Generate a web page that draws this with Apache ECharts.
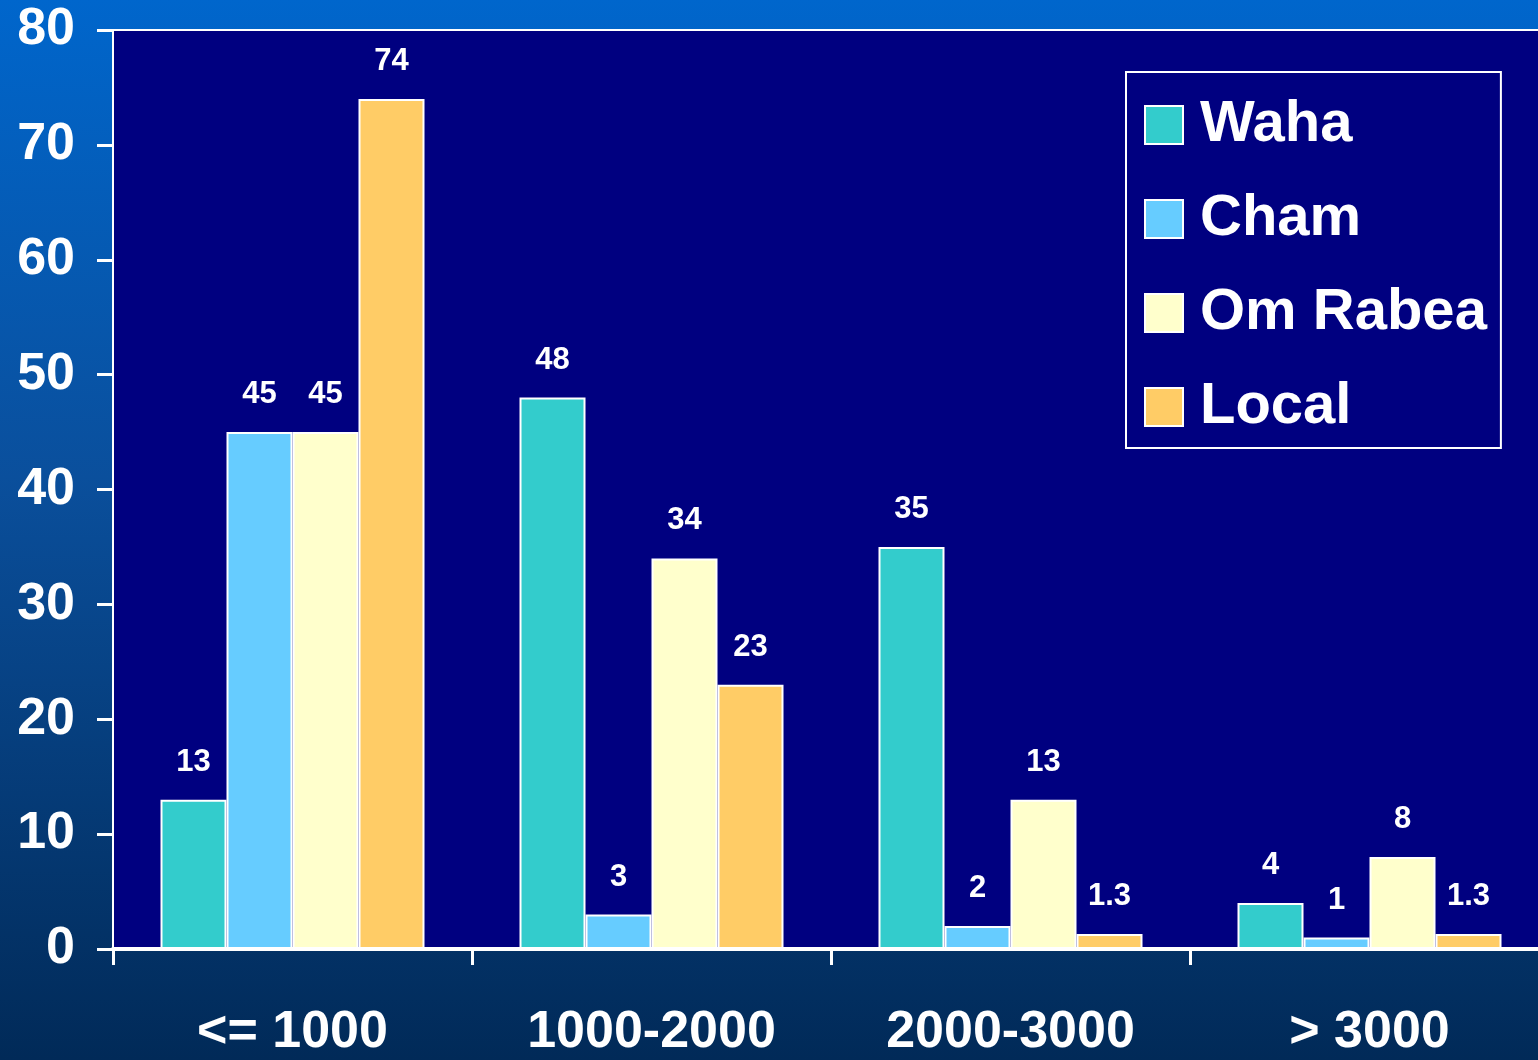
<!DOCTYPE html>
<html>
<head>
<meta charset="utf-8">
<script src="https://cdn.jsdelivr.net/npm/echarts@6/dist/echarts.min.js"></script>
<style>
  html, body { margin: 0; padding: 0; overflow: hidden; }
  #main { width: 1549px; height: 1060px; }
</style>
</head>
<body>
<div id="main"></div>
<script>
// data
let categories = ['<= 1000', '1000-2000', '2000-3000', '> 3000'];
let waha = [13, 48, 35, 4];
let cham = [45, 3, 2, 1];
let omRabea = [45, 34, 13, 8];
let local = [74, 23, 1.3, 1.3];
let seriesNames = ['Waha', 'Cham', 'Om Rabea', 'Local'];
let seriesColors = ['#33CCCC', '#66CCFF', '#FFFFCC', '#FFCC66'];

// chart is a bit wider than the window: the plot runs off the right edge
let myChart = echarts.init(document.getElementById('main'));
let font = '"Liberation Sans", Arial, sans-serif';

let makeSeries = function (name, data, color) {
    return {
        name: name,
        type: 'bar',
        data: data,
        barWidth: 66,
        barGap: '0%',
        itemStyle: { color: color, borderColor: '#fff', borderWidth: 2 },
        label: {
            show: true,
            position: 'top',
            distance: 22,
            color: '#fff',
            fontFamily: font,
            fontWeight: 'bold',
            fontSize: 31
        }
    };
};

let option = {
    backgroundColor: {
        type: 'linear', x: 0, y: 0, x2: 0, y2: 1,
        colorStops: [
            { offset: 0, color: '#0066CC' },
            { offset: 0.45, color: '#0A4F9C' },
            { offset: 1, color: '#012A58' }
        ]
    },
    grid: {
        left: 113,
        top: 30,
        right: 0,
        bottom: 111,
        show: true,
        backgroundColor: '#000080',
        borderColor: '#fff',
        borderWidth: 2
    },
    legend: {
        orient: 'vertical',
        left: 1126,
        top: 72,
        padding: [24, 14, 12, 18],
        backgroundColor: '#000080',
        borderColor: '#fff',
        borderWidth: 2,
        itemWidth: 38,
        itemHeight: 38,
        itemGap: 36,
        icon: 'rect',
        textStyle: {
            color: '#fff',
            fontFamily: font,
            fontWeight: 'bold',
            fontSize: 58,
            padding: [0, 0, 0, 12]
        },
        data: seriesNames
    },
    xAxis: {
        type: 'category',
        data: categories,
        axisLine: { lineStyle: { color: '#fff', width: 4 } },
        axisTick: { show: true, length: 16, lineStyle: { color: '#fff', width: 3 } },
        axisLabel: {
            color: '#fff',
            fontFamily: font,
            fontWeight: 'bold',
            fontSize: 52,
            margin: 58
        }
    },
    yAxis: {
        type: 'value',
        min: 0,
        max: 80,
        interval: 10,
        splitLine: { show: false },
        axisLine: { show: true, lineStyle: { color: '#fff', width: 2 } },
        axisTick: { show: true, length: 16, lineStyle: { color: '#fff', width: 3 } },
        axisLabel: {
            color: '#fff',
            fontFamily: font,
            fontWeight: 'bold',
            fontSize: 52,
            margin: 38
        }
    },
    series: [
        makeSeries(seriesNames[0], waha, seriesColors[0]),
        makeSeries(seriesNames[1], cham, seriesColors[1]),
        makeSeries(seriesNames[2], omRabea, seriesColors[2]),
        makeSeries(seriesNames[3], local, seriesColors[3])
    ]
};

myChart.setOption(option);
</script>
</body>
</html>
